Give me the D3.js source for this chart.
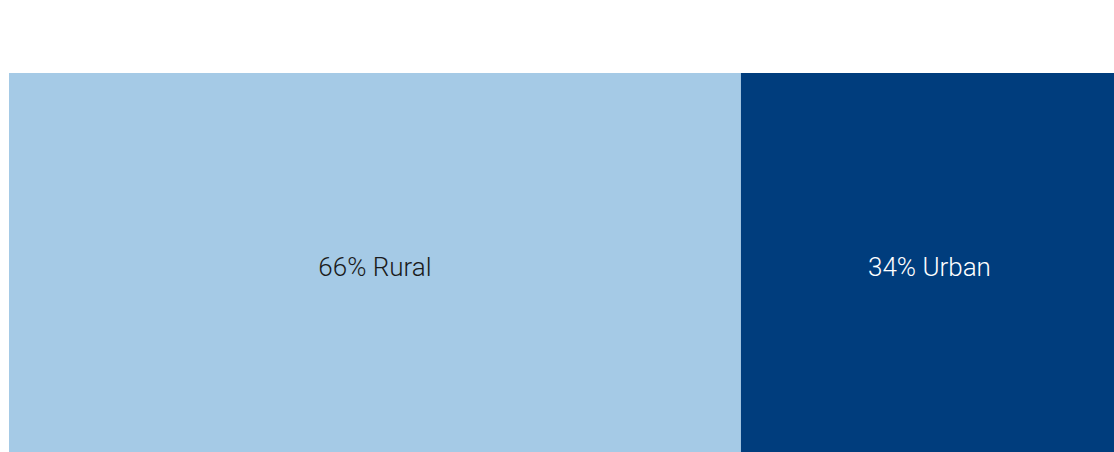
<!DOCTYPE html>
<html>
<head>
<meta charset="utf-8">
<script src="https://cdn.jsdelivr.net/npm/d3@7"></script>
<style>
  body { margin: 0; background: #fff; }
  svg { display: block; }
</style>
</head>
<body>
<svg id="chart"></svg>
<script>
var categories = ["Rural", "Urban"];
var shares = [66, 34];
var colors = ["#a5cae6", "#003d7d"];
var textColors = ["#1b1b1b", "#ffffff"];

var width = 1114, height = 452;
var svg = d3.select("#chart").attr("width", width).attr("height", height);

// stack the shares left to right
var start = 0;
var segments = categories.map(function(c, i) {
    var seg = { name: c, value: shares[i], x0: start, x1: start + shares[i], i: i };
    start += shares[i];
    return seg;
});

var xScale = d3.scaleLinear().domain([0, 100]).range([9, 1118]);
var yScale = d3.scaleBand().domain(["all"]).range([73, 452]);

svg.selectAll("rect").data(segments).enter().append("rect")
    .attr("x", function(d) { return xScale(d.x0); })
    .attr("y", yScale("all"))
    .attr("width", function(d) { return xScale(d.x1) - xScale(d.x0); })
    .attr("height", yScale.bandwidth())
    .attr("fill", function(d) { return colors[d.i]; });

svg.selectAll("text").data(segments).enter().append("text")
    .attr("x", function(d) { return (xScale(d.x0) + xScale(d.x1)) / 2; })
    .attr("y", yScale("all") + yScale.bandwidth() / 2)
    .attr("dy", "0.52em")
    .attr("text-anchor", "middle")
    .style("font-family", "Roboto, sans-serif")
    .style("font-weight", 300)
    .style("font-size", "26px")
    .attr("fill", function(d) { return textColors[d.i]; })
    .text(function(d) { return d.value + "% " + d.name; });
</script>
</body>
</html>
